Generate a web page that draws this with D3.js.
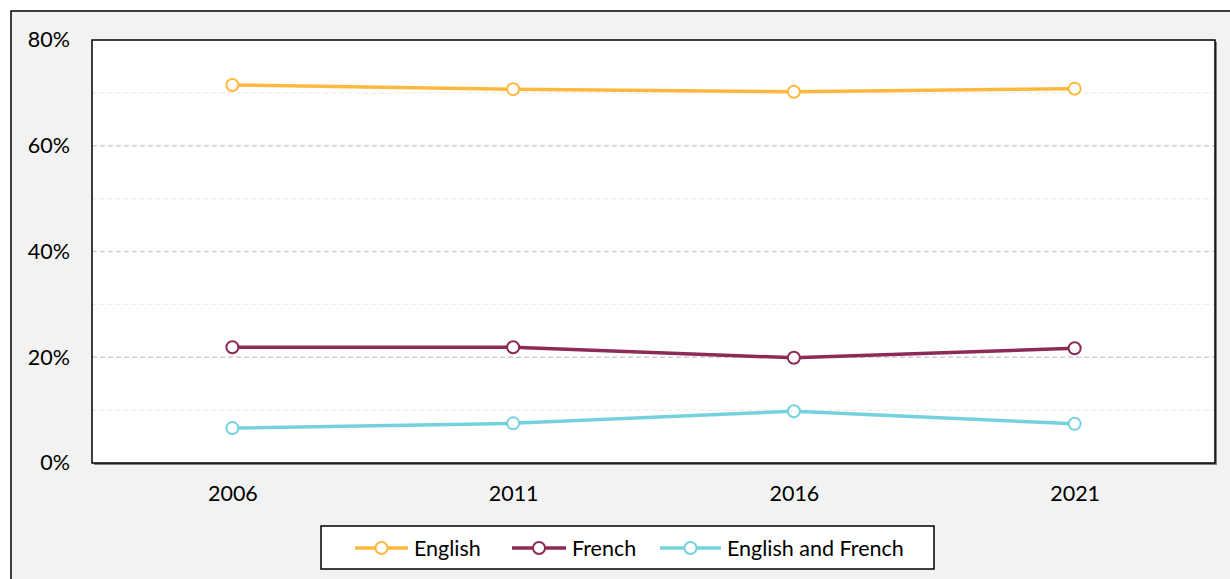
<!DOCTYPE html>
<html lang="en">
<head>
<meta charset="utf-8">
<title>Language chart</title>
<script src="https://d3js.org/d3.v7.min.js"></script>
<style>
  body { margin: 0; background: #fff; }
  svg { display: block; font-family: Lato, "Open Sans", sans-serif; }
</style>
</head>
<body>
<div id="chart1"></div>
<script>
// data
const years = ["2006", "2011", "2016", "2021"];
const english = [71.5, 70.7, 70.2, 70.8];
const french = [21.9, 21.9, 19.9, 21.7];
const englishFrench = [6.6, 7.5, 9.8, 7.4];
const seriesNames = ["English", "French", "English and French"];
const seriesColors = ["#ffb83e", "#8d2a56", "#73d2de"];
const yTicks = [0, 20, 40, 60, 80];
const minorTicks = [10, 30, 50, 70];

const series = [english, french, englishFrench].map((vals, i) => ({
  name: seriesNames[i], color: seriesColors[i],
  values: vals.map((v, j) => ({ year: years[j], value: v }))
}));

const W = 1230, H = 579;
const margin = { top: 40, right: 15, bottom: 116, left: 92 };
const width = W - margin.left - margin.right,
      height = H - margin.top - margin.bottom;
const fontSize = 21.5;

const svg = d3.select("#chart1").append("svg")
  .attr("width", W).attr("height", H);

// outer frame
svg.append("rect").attr("x", 11).attr("y", 11)
  .attr("width", W + 20).attr("height", H + 20)
  .attr("fill", "#f2f2f2").attr("stroke", "#000").attr("stroke-width", 1.5);

const g = svg.append("g").attr("transform", `translate(${margin.left},${margin.top})`);

const x = d3.scalePoint().domain(years).range([0, width]).padding(0.5);
const y = d3.scaleLinear().domain([0, 80]).range([height, 0]);

// plot area shadow + background
g.append("rect").attr("x", 2).attr("y", 2).attr("width", width).attr("height", height)
  .attr("fill", "#7f7f7f");
g.append("rect").attr("width", width).attr("height", height).attr("fill", "#fff");

// gridlines
g.selectAll(".minor").data(minorTicks).join("line")
  .attr("x1", 0).attr("x2", width)
  .attr("y1", d => y(d)).attr("y2", d => y(d))
  .attr("stroke", "#ececec").attr("stroke-width", 1.3).attr("stroke-dasharray", "5,3");
g.selectAll(".major").data(yTicks.filter(d => d > 0 && d < 80)).join("line")
  .attr("x1", 0).attr("x2", width)
  .attr("y1", d => y(d)).attr("y2", d => y(d))
  .attr("stroke", "#d0d0d0").attr("stroke-width", 1.3).attr("stroke-dasharray", "5,3");

// plot border
g.append("rect").attr("width", width).attr("height", height)
  .attr("fill", "none").attr("stroke", "#000").attr("stroke-width", 1.5);

// y axis labels
const yAxis = g.append("g")
  .call(d3.axisLeft(y).tickValues(yTicks).tickFormat(d => d + "%").tickSize(0).tickPadding(22));
yAxis.select(".domain").remove();
yAxis.selectAll("text").attr("font-size", fontSize).attr("fill", "#000")
  .attr("font-family", "Lato, 'Open Sans', sans-serif");

// x axis labels
const xAxis = g.append("g").attr("transform", `translate(0,${height})`)
  .call(d3.axisBottom(x).tickSize(0).tickPadding(23));
xAxis.select(".domain").remove();
xAxis.selectAll("text").attr("font-size", fontSize).attr("fill", "#000")
  .attr("font-family", "Lato, 'Open Sans', sans-serif");

// lines
const line = d3.line().x(d => x(d.year)).y(d => y(d.value));
const sg = g.selectAll(".series").data(series).join("g");
sg.append("path").attr("d", d => line(d.values))
  .attr("fill", "none").attr("stroke", d => d.color).attr("stroke-width", 3.5)
  .attr("stroke-linejoin", "round");
sg.each(function(s) {
  d3.select(this).selectAll("circle").data(s.values).join("circle")
    .attr("cx", d => x(d.year)).attr("cy", d => y(d.value)).attr("r", 6)
    .attr("fill", "#fff").attr("stroke", s.color).attr("stroke-width", 2);
});

// legend
const legend = svg.append("g");
legend.append("rect").attr("x", 321).attr("y", 526).attr("width", 613).attr("height", 43)
  .attr("fill", "#fff").attr("stroke", "#000").attr("stroke-width", 1.5);
const legendX = [355, 512, 660];
const legendLen = [53, 54, 61];
series.forEach((s, i) => {
  const lg = legend.append("g").attr("transform", `translate(${legendX[i]},548)`);
  lg.append("line").attr("x1", 0).attr("x2", legendLen[i])
    .attr("stroke", s.color).attr("stroke-width", 3.5);
  lg.append("circle").attr("cx", legendLen[i] / 2).attr("r", 6)
    .attr("fill", "#fff").attr("stroke", s.color).attr("stroke-width", 2);
  lg.append("text").attr("x", legendLen[i] + 6).attr("dy", "0.35em")
    .attr("font-size", fontSize).text(s.name);
});
</script>
</body>
</html>
